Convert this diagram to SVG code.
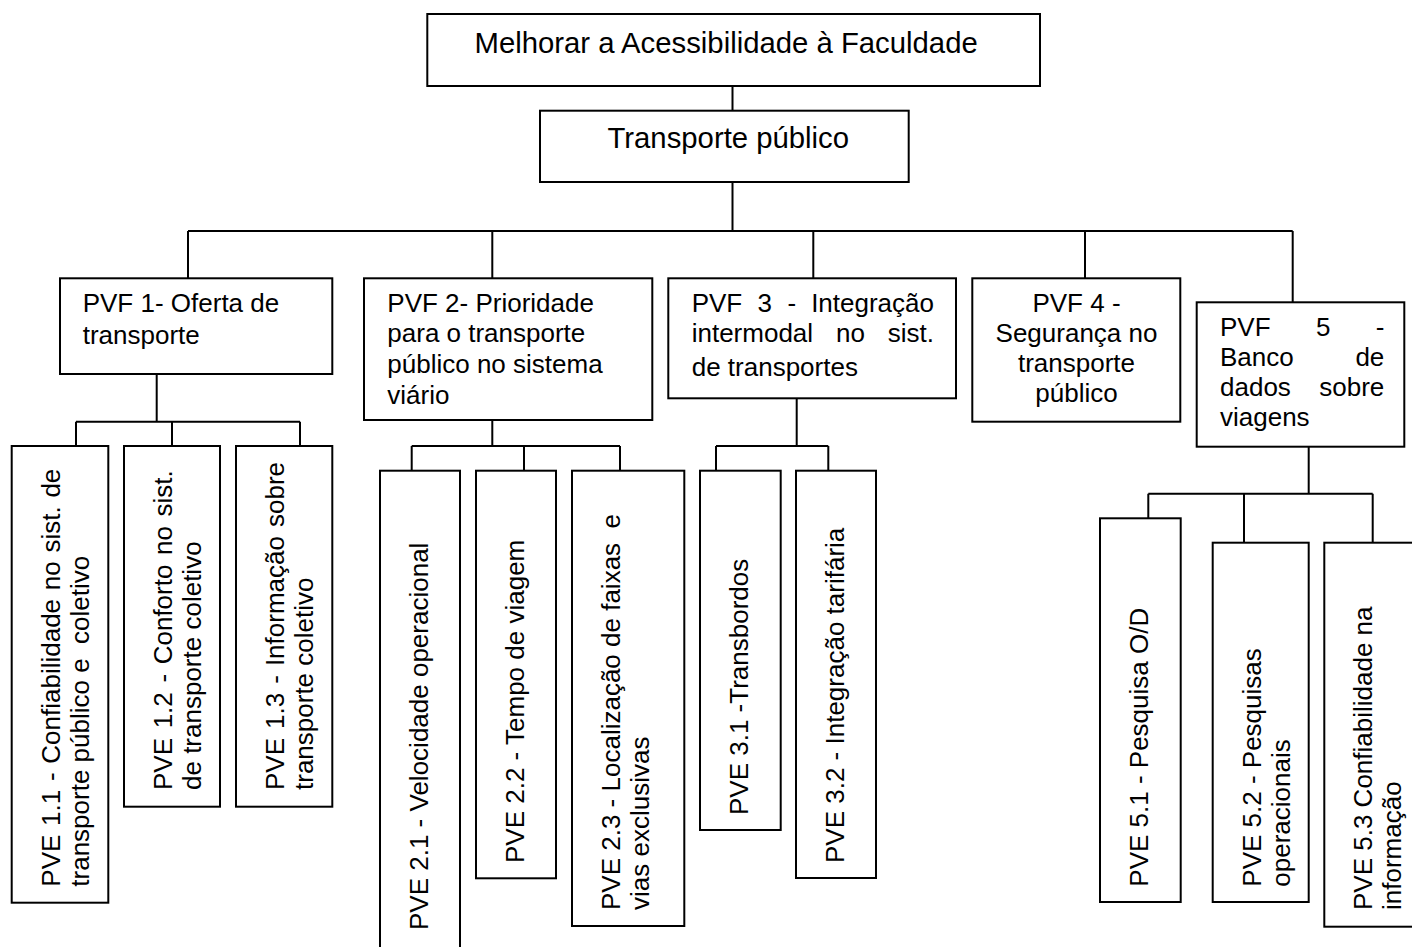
<svg xmlns="http://www.w3.org/2000/svg" width="1412" height="947" viewBox="0 0 1412 947">
  <style>
    .box { fill: #ffffff; stroke: #000000; stroke-width: 2; }
    .conn { fill: none; stroke: #000000; stroke-width: 2; }
    text { font-family: "Liberation Sans", Arial, sans-serif; fill: #000000; white-space: pre; }
    .t29 { font-size: 29.3px; }
    .t26 { font-size: 26px; }
    .mid { text-anchor: middle; }
    .end { text-anchor: end; }
  </style>
  <rect x="0" y="0" width="1412" height="947" fill="#ffffff"/>

  <!-- tree connectors -->
  <g id="connectors" class="conn">
    <path d="M732.5 86 V110.7"/>
    <path d="M732.5 182 V231"/>
    <path d="M188 231 H1292.7 M188 231 V278.3 M492.3 231 V278.3 M813.3 231 V278.3 M1085 231 V278.3 M1292.7 231 V302.3"/>
    <path d="M156.7 374 V421.7 M76 421.7 H300 M76 421.7 V446 M172 421.7 V446 M300 421.7 V446"/>
    <path d="M492.3 420 V446 M411.7 446 H620 M411.7 446 V470.7 M524 446 V470.7 M620 446 V470.7"/>
    <path d="M796.7 398.3 V446 M716 446 H828.3 M716 446 V470.7 M828.3 446 V470.7"/>
    <path d="M1308.7 446.7 V493.7 M1148.3 493.7 H1372.7 M1148.3 493.7 V518.3 M1244 493.7 V542.7 M1372.7 493.7 V542.7"/>
  </g>

  <!-- root and first level -->
  <g id="root">
    <rect class="box" x="427.3" y="14" width="612.7" height="72"/>
    <text class="t29" x="474.5" y="52.7">Melhorar a Acessibilidade à Faculdade</text>
  </g>
  <g id="transporte-publico">
    <rect class="box" x="540" y="110.7" width="368.7" height="71.3"/>
    <text class="t29" x="607.5" y="147.7">Transporte público</text>
  </g>

  <!-- PVF nodes -->
  <g id="pvf1">
    <rect class="box" x="60" y="278.3" width="272.3" height="95.7"/>
    <text class="t26"><tspan x="82.7" y="311.7">PVF 1- Oferta de</tspan><tspan x="82.7" y="343.5">transporte</tspan></text>
  </g>
  <g id="pvf2">
    <rect class="box" x="364" y="278.3" width="288.3" height="141.7"/>
    <text class="t26"><tspan x="387.3" y="311.7">PVF 2- Prioridade</tspan><tspan x="387.3" y="342.3">para o transporte</tspan><tspan x="387.3" y="373">público no sistema</tspan><tspan x="387.3" y="403.5">viário</tspan></text>
  </g>
  <g id="pvf3">
    <rect class="box" x="668.3" y="278.3" width="287.7" height="120"/>
    <text class="t26"><tspan x="691.7" y="311.7">PVF</tspan><tspan x="757.6" y="311.7">3</tspan><tspan x="787.4" y="311.7">-</tspan><tspan class="end" x="934" y="311.7">Integração</tspan><tspan x="691.7" y="341.5">intermodal</tspan><tspan x="836" y="341.5">no</tspan><tspan class="end" x="934" y="341.5">sist.</tspan><tspan x="691.7" y="376">de transportes</tspan></text>
  </g>
  <g id="pvf4">
    <rect class="box" x="972.3" y="278.3" width="208" height="143.4"/>
    <text class="t26 mid"><tspan x="1076.5" y="311.7">PVF 4 -</tspan><tspan x="1076.5" y="342">Segurança no</tspan><tspan x="1076.5" y="372">transporte</tspan><tspan x="1076.5" y="402">público</tspan></text>
  </g>
  <g id="pvf5">
    <rect class="box" x="1196.7" y="302.3" width="207.6" height="144.4"/>
    <text class="t26"><tspan x="1220" y="335.7">PVF</tspan><tspan x="1316" y="335.7">5</tspan><tspan class="end" x="1384.3" y="335.7">-</tspan><tspan x="1220" y="365.5">Banco</tspan><tspan class="end" x="1384.3" y="365.5">de</tspan><tspan x="1220" y="395.5">dados</tspan><tspan class="end" x="1384.3" y="395.5">sobre</tspan><tspan x="1220" y="425.5">viagens</tspan></text>
  </g>

  <!-- PVE leaves (vertical labels) -->
  <g id="pve1-1">
    <rect class="box" x="11.7" y="446" width="96.6" height="456.7"/>
    <text class="t26" transform="translate(59.7 886.7) rotate(-90)"><tspan x="0" y="0" word-spacing="1.5">PVE 1.1 - Confiabilidade no sist. de</tspan><tspan x="0" y="29">transporte público e  coletivo</tspan></text>
  </g>
  <g id="pve1-2">
    <rect class="box" x="124" y="446" width="96" height="360.7"/>
    <text class="t26" transform="translate(172 790) rotate(-90)"><tspan x="0" y="0" word-spacing="2.4">PVE 1.2 - Conforto no sist.</tspan><tspan x="0" y="29">de transporte coletivo</tspan></text>
  </g>
  <g id="pve1-3">
    <rect class="box" x="236" y="446" width="96.3" height="360.7"/>
    <text class="t26" transform="translate(284 790) rotate(-90)"><tspan x="0" y="0" word-spacing="1.8">PVE 1.3 - Informação sobre</tspan><tspan x="0" y="29">transporte coletivo</tspan></text>
  </g>
  <g id="pve2-1">
    <rect class="box" x="380" y="470.7" width="80" height="500"/>
    <text class="t26" transform="translate(428 930) rotate(-90)">PVE 2.1 - Velocidade operacional</text>
  </g>
  <g id="pve2-2">
    <rect class="box" x="476" y="470.7" width="80" height="407.6"/>
    <text class="t26" transform="translate(524 863) rotate(-90)">PVE 2.2 - Tempo de viagem</text>
  </g>
  <g id="pve2-3">
    <rect class="box" x="572" y="470.7" width="112.3" height="455.3"/>
    <text class="t26" transform="translate(620 910) rotate(-90)"><tspan x="0" y="0">PVE 2.3 - Localização de faixas  e</tspan><tspan x="0" y="29">vias exclusivas</tspan></text>
  </g>
  <g id="pve3-1">
    <rect class="box" x="700" y="470.7" width="80.7" height="359.3"/>
    <text class="t26" transform="translate(748 815) rotate(-90)">PVE 3.1 -Transbordos</text>
  </g>
  <g id="pve3-2">
    <rect class="box" x="796" y="470.7" width="80" height="407.3"/>
    <text class="t26" transform="translate(844 863) rotate(-90)">PVE 3.2 - Integração tarifária</text>
  </g>
  <g id="pve5-1">
    <rect class="box" x="1100" y="518.3" width="80.7" height="383.7"/>
    <text class="t26" transform="translate(1148 886.7) rotate(-90)">PVE 5.1 - Pesquisa O/D</text>
  </g>
  <g id="pve5-2">
    <rect class="box" x="1212.7" y="542.7" width="96" height="359.3"/>
    <text class="t26" transform="translate(1260.7 886.7) rotate(-90)"><tspan x="0" y="0">PVE 5.2 - Pesquisas</tspan><tspan x="0" y="29">operacionais</tspan></text>
  </g>
  <g id="pve5-3">
    <rect class="box" x="1324.3" y="542.7" width="120" height="384"/>
    <text class="t26" transform="translate(1372.3 910) rotate(-90)"><tspan x="0" y="0">PVE 5.3 Confiabilidade na</tspan><tspan x="0" y="29">informação</tspan></text>
  </g>
</svg>
